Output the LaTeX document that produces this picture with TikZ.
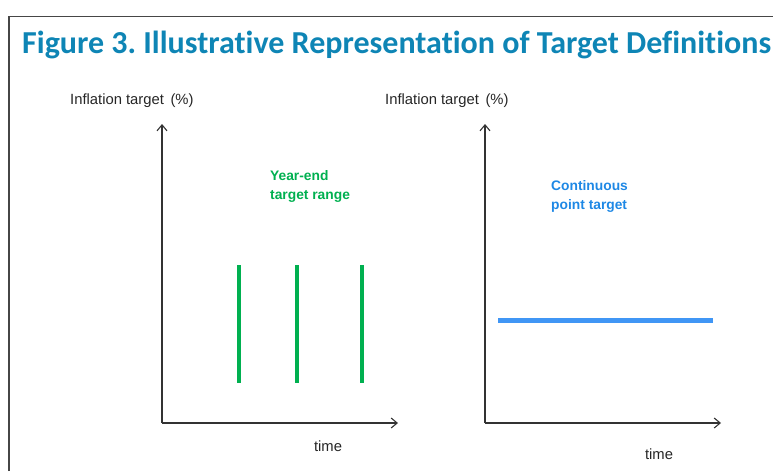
\documentclass[tikz,border=0pt]{standalone}
\usepackage{fontspec}
\setmainfont{Liberation Sans}
\newfontfamily\titlefont[Ligatures=NoCommon]{Carlito}
\usetikzlibrary{arrows.meta}
\definecolor{titleblue}{RGB}{14,133,181}
\definecolor{bargreen}{RGB}{0,176,80}
\definecolor{textgreen}{RGB}{0,176,80}
\definecolor{lineblue}{RGB}{64,150,245}
\definecolor{textblue}{RGB}{30,136,229}
\definecolor{framegray}{RGB}{70,70,70}
\tikzset{
  txt/.style={inner sep=0pt, anchor=base west, font=\fontsize{14.8}{14.8}\selectfont, text=black!85},
  lbl/.style={inner sep=0pt, anchor=north west, align=left, font=\fontsize{13.8}{19}\selectfont\bfseries},
  axis/.style={line width=1.2pt, draw=black!80, -{Straight Barb[length=6pt,width=10pt,line width=1.1pt]}},
  gbar/.style={line width=4pt, draw=bargreen},
  bline/.style={line width=5pt, draw=lineblue}
}
\begin{document}
\begin{tikzpicture}[x=1pt,y=-1pt]
\useasboundingbox (0,0) rectangle (773,471);
% frame
\draw[framegray, line width=1.5pt] (9,471) -- (9,16.5) -- (773,16.5);
% title
\node[inner sep=0pt, anchor=base west, text=titleblue,
  font=\titlefont\fontsize{32}{32}\selectfont\bfseries\frenchspacing] (title) at (22,53)
  {Figure 3. Illustrative Representation of Target Definitions};
% left chart
\coordinate (lo) at (162,423);
\coordinate (lt) at (162,124);
\coordinate (lr) at (398,423);
\draw[axis] (lo) -- (lt);
\draw[axis] (lo) -- (lr);
\node[txt] (lylab) at (70,104) {Inflation target\, (\%)};
\node[txt, anchor=base] (lxlab) at (328,451) {time};
\node[lbl, text=textgreen] (glab) at (270,170) {Year-end\\target range};
\coordinate (g1t) at (239,265); \coordinate (g1b) at (239,383);
\coordinate (g2t) at (297,265); \coordinate (g2b) at (297,383);
\coordinate (g3t) at (362,265); \coordinate (g3b) at (362,383);
\draw[gbar] (g1t) -- (g1b);
\draw[gbar] (g2t) -- (g2b);
\draw[gbar] (g3t) -- (g3b);
% right chart
\coordinate (ro) at (485,423);
\coordinate (rt) at (485,124);
\coordinate (rr) at (721,423);
\draw[axis] (ro) -- (rt);
\draw[axis] (ro) -- (rr);
\node[txt] (rylab) at (385,104) {Inflation target\, (\%)};
\node[txt, anchor=base] (rxlab) at (659,459) {time};
\node[lbl, text=textblue] (blab) at (551,180) {Continuous\\point target};
\coordinate (bl) at (498,320); \coordinate (br) at (713,320);
\draw[bline] (bl) -- (br);
\end{tikzpicture}
\end{document}
